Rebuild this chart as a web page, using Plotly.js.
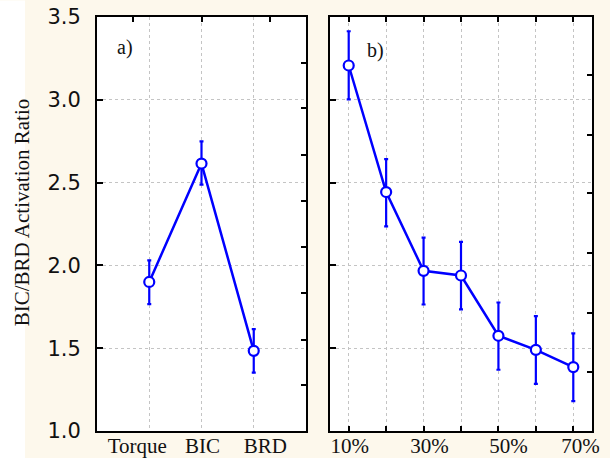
<!DOCTYPE html>
<html>
<head>
<meta charset="utf-8">
<script src="https://cdn.plot.ly/plotly-3.0.1.min.js"></script>
<style>html,body{margin:0;padding:0;background:#fdf8ec;}#chart{width:610px;height:458px;}</style>
</head>
<body>
<div id="chart"></div>
<script>
// ---- data ----
const leftCats = ['Torque', 'BIC', 'BRD'];
const leftMean = [1.90, 2.615, 1.484];
const leftErrPlus = [0.13, 0.134, 0.131];
const leftErrMinus = [0.134, 0.127, 0.132];

const rightCats = ['10%', '20%', '30%', '40%', '50%', '60%', '70%'];
const rightMean = [3.207, 2.443, 1.967, 1.939, 1.575, 1.490, 1.386];
const rightErrPlus = [0.207, 0.199, 0.201, 0.203, 0.201, 0.204, 0.203];
const rightErrMinus = [0.205, 0.207, 0.203, 0.205, 0.205, 0.205, 0.205];

const yTitle = 'BIC/BRD Activation Ratio';
const panelLabels = ['a)', 'b)'];

// ---- styles ----
const BLUE = '#0000ff';
const GRID = '#c4c4c4';
const SERIF = 'Liberation Serif, Times New Roman, serif';
const SANS = 'DejaVu Sans, sans-serif';
const W = 610, H = 458, ML = 97, MR = 18, MT = 16.5, MB = 27;
const PW = W - ML - MR, PH = H - MT - MB;
const px2x = p => (p - ML) / PW;
const px2y = p => (H - MB - p) / PH;

function trace(cats, mean, ep, em, xa, ya) {
  return {
    x: cats.map((c, i) => i), y: mean, xaxis: xa, yaxis: ya,
    type: 'scatter', mode: 'lines+markers',
    line: {color: BLUE, width: 2.5},
    marker: {symbol: 'circle', size: 10, color: '#ffffff', line: {color: BLUE, width: 2.2}},
    error_y: {type: 'data', symmetric: false, array: ep, arrayminus: em,
      color: BLUE, thickness: 2.2, width: 2},
    hoverinfo: 'skip', showlegend: false
  };
}
// empty helper trace so that an overlay axis gets drawn
function holder(xa, ya) {
  return {x: [null], y: [null], xaxis: xa, yaxis: ya, type: 'scatter', mode: 'markers',
    marker: {opacity: 0}, hoverinfo: 'skip', showlegend: false};
}

const data = [
  holder('x3', 'y'), holder('x4', 'y'), holder('x', 'y3'),
  holder('x5', 'y2'), holder('x2', 'y4'),
  trace(leftCats, leftMean, leftErrPlus, leftErrMinus, 'x', 'y'),
  trace(rightCats, rightMean, rightErrPlus, rightErrMinus, 'x2', 'y2')
];

const yr = [1, 3.5];
const leftDom = [0, px2x(306)];
const rightDom = [px2x(330), 1];

const baseY = {
  range: yr, dtick: 0.5, tick0: 1, tickformat: '.1f',
  showgrid: true, gridcolor: GRID, griddash: 'dot', gridwidth: 1,
  zeroline: false, showline: true, linecolor: '#000', linewidth: 2, mirror: true,
  ticks: 'inside', ticklen: 6, tickwidth: 2, tickcolor: '#000', fixedrange: true
};

const layout = {
  width: W, height: H,
  margin: {l: ML, r: MR, t: MT, b: MB, pad: 0},
  paper_bgcolor: '#fdf8ec', plot_bgcolor: '#ffffff',
  showlegend: false,
  // left panel
  xaxis: {domain: leftDom, anchor: 'y', range: [-1, 3], tickvals: [0, 1, 2], showticklabels: false,
    showgrid: true, gridcolor: GRID, griddash: 'dot', zeroline: false,
    showline: true, linecolor: '#000', linewidth: 2, mirror: true, ticks: '', fixedrange: true},
  yaxis: Object.assign({}, baseY, {domain: [0, 1], anchor: 'x',
    tickfont: {family: SANS, size: 21, color: '#111'}, ticklabelstandoff: 10}),
  xaxis3: {overlaying: 'x', anchor: 'y', side: 'bottom', range: [-1, 3],
    tickvals: [-0.23, 1.02, 2.22], ticktext: leftCats, ticks: '', showgrid: false, zeroline: false,
    showline: false, tickfont: {family: SERIF, size: 21, color: '#111'}, fixedrange: true},
  xaxis4: {overlaying: 'x', anchor: 'y', side: 'top', range: [-1, 3],
    tickvals: [-0.31, 1.0, 2.31], ticks: 'inside', ticklen: 5, tickwidth: 2, tickcolor: '#000',
    showticklabels: false, showgrid: false, zeroline: false, showline: false, fixedrange: true},
  yaxis3: {overlaying: 'y', anchor: 'x', side: 'right', range: yr,
    tickvals: [3.222, 2.949, 2.665, 2.386, 2.114, 1.835, 1.551, 1.278],
    ticks: 'inside', ticklen: 5, tickwidth: 2, tickcolor: '#000', showticklabels: false,
    showgrid: false, zeroline: false, showline: false, fixedrange: true},
  // right panel
  xaxis2: {domain: rightDom, anchor: 'y2', range: [-0.5, 6.5], tickvals: rightCats.map((c, i) => i),
    showticklabels: false, showgrid: true, gridcolor: GRID, griddash: 'dot', zeroline: false,
    showline: true, linecolor: '#000', linewidth: 2, mirror: 'ticks',
    ticks: 'inside', ticklen: 5, tickwidth: 2, tickcolor: '#000', fixedrange: true},
  yaxis2: Object.assign({}, baseY, {domain: [0, 1], anchor: 'x2', showticklabels: false}),
  xaxis5: {overlaying: 'x2', anchor: 'y2', side: 'bottom', range: [-0.5, 6.5],
    tickvals: [0.03, 2.16, 4.27, 6.19], ticktext: rightCats.filter((c, i) => i % 2 === 0),
    ticks: '', showgrid: false, zeroline: false, showline: false,
    tickfont: {family: SERIF, size: 21, color: '#111'}, fixedrange: true},
  yaxis4: {overlaying: 'y2', anchor: 'x2', side: 'right', range: yr,
    tickvals: [3.149, 2.786, 2.435, 2.077, 1.714, 1.357],
    ticks: 'inside', ticklen: 5, tickwidth: 2, tickcolor: '#000', showticklabels: false,
    showgrid: false, zeroline: false, showline: false, fixedrange: true},
  shapes: [
    {type: 'rect', xref: 'paper', yref: 'paper', x0: px2x(0), x1: px2x(25), y0: px2y(H), y1: px2y(0),
      fillcolor: '#ffffff', line: {width: 0}, layer: 'below'}
  ],
  annotations: [
    {text: yTitle, xref: 'paper', yref: 'paper', x: px2x(22), y: px2y(212), textangle: -90,
      showarrow: false, xanchor: 'center', yanchor: 'middle',
      font: {family: SERIF, size: 21, color: '#111'}},
    {text: panelLabels[0], xref: 'paper', yref: 'paper', x: px2x(125), y: px2y(47),
      showarrow: false, xanchor: 'center', yanchor: 'middle', font: {family: SERIF, size: 20, color: '#111'}},
    {text: panelLabels[1], xref: 'paper', yref: 'paper', x: px2x(375), y: px2y(50),
      showarrow: false, xanchor: 'center', yanchor: 'middle', font: {family: SERIF, size: 20, color: '#111'}}
  ]
};

Plotly.newPlot('chart', data, layout, {staticPlot: true, displayModeBar: false});
</script>
</body>
</html>
